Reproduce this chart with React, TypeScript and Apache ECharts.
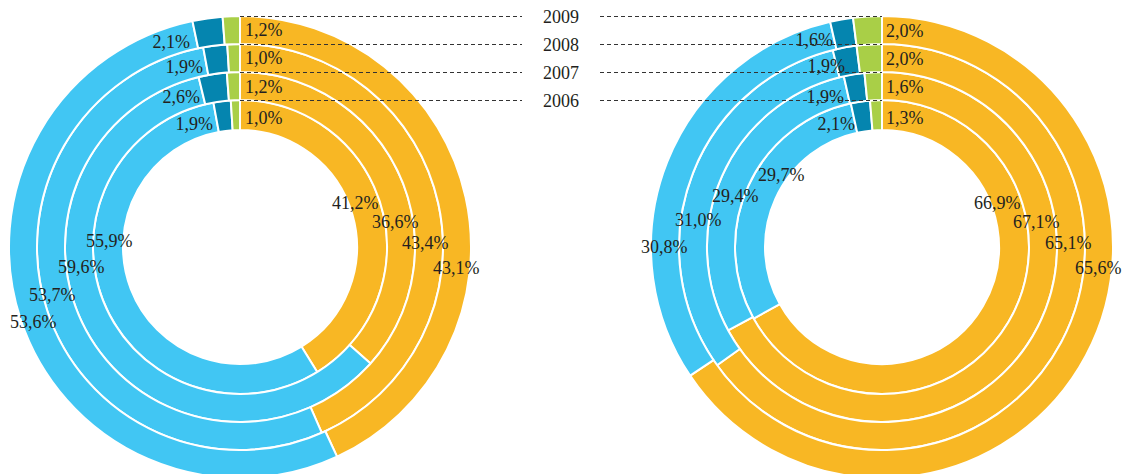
import React, { useEffect, useRef } from "react";
import * as echarts from "echarts";

const years = ["2006", "2007", "2008", "2009"];
const segmentNames = ["A", "B", "C", "D"];
const leftYellow = [41.2, 36.6, 43.4, 43.1];
const leftBlue = [55.9, 59.6, 53.7, 53.6];
const leftDark = [1.9, 2.6, 1.9, 2.1];
const leftGreen = [1.0, 1.2, 1.0, 1.2];
const rightYellow = [66.9, 67.1, 65.1, 65.6];
const rightBlue = [29.7, 29.4, 31.0, 30.8];
const rightDark = [2.1, 1.9, 1.9, 1.6];
const rightGreen = [1.3, 1.6, 2.0, 2.0];

// layout
const COLORS = ["#F8B724", "#41C6F3", "#0585AF", "#A9CF47"];
const RINGS = [
  [117, 147],
  [147, 175],
  [175, 203],
  [203, 231],
];
const CY = 247;
const LCX = 240;
const RCX = 882;
const FONT = "Liberation Serif";
const FONT_SIZE = 18;
const TEXT_COLOR = "#231f20";

// label anchors (index 0 = 2006)
const L_GREEN = { x: [245, 245, 245, 245], y: [118, 87, 58, 30] };
const L_DARK = { x: [213, 200, 203, 190], y: [124, 97, 67, 42] };
const L_YELLOW = { x: [332, 372, 402, 433], y: [203, 222, 243, 268] };
const L_BLUE = { x: [86, 58, 29, 10], y: [241, 267, 295, 322] };
const R_GREEN = { x: [886, 886, 886, 886], y: [118, 87, 59, 31] };
const R_DARK = { x: [855, 844, 845, 833], y: [124, 97, 66, 40] };
const R_YELLOW = { x: [974, 1013, 1045, 1075], y: [203, 222, 243, 268] };
const R_BLUE = { x: [758, 712, 675, 641], y: [175, 196, 220, 247] };

const fmt = (v: number) => v.toFixed(1).replace(".", ",") + "%";

function makeSeries(cx: number, y: number[], b: number[], d: number[], g: number[]) {
  return years.map((yr, i) => ({
    type: "pie",
    name: yr,
    center: [cx, CY],
    radius: RINGS[i],
    startAngle: 90,
    clockwise: true,
    silent: true,
    avoidLabelOverlap: false,
    label: { show: false },
    labelLine: { show: false },
    itemStyle: { borderColor: "#ffffff", borderWidth: 2 },
    data: [y[i], b[i], d[i], g[i]].map((v, k) => ({
      name: segmentNames[k],
      value: v,
      itemStyle: { color: COLORS[k] },
    })),
  }));
}

function texts(vals: number[], pos: { x: number[]; y: number[] }, align: string) {
  return vals.map((v, i) => ({
    type: "text",
    z: 100,
    x: pos.x[i],
    y: pos.y[i],
    style: {
      text: fmt(v),
      fill: TEXT_COLOR,
      fontFamily: FONT,
      fontSize: FONT_SIZE,
      align: align,
      verticalAlign: "middle",
    },
  }));
}

export default function App() {
  const ref = useRef<HTMLDivElement>(null);
  useEffect(() => {
    const chart = echarts.init(ref.current!, undefined, { renderer: "svg" });
    const lineYs = RINGS.map((r) => CY - r[1]);
    const graphics: any[] = [];
    lineYs.forEach((ly) => {
      graphics.push({
        type: "line",
        z: 99,
        shape: { x1: LCX, y1: ly + 0.5, x2: 522, y2: ly + 0.5 },
        style: { stroke: "#333", lineWidth: 1, lineDash: [4, 3] },
      });
      graphics.push({
        type: "line",
        z: 99,
        shape: { x1: 600, y1: ly + 0.5, x2: RCX, y2: ly + 0.5 },
        style: { stroke: "#333", lineWidth: 1, lineDash: [4, 3] },
      });
    });
    years.forEach((yr, i) => {
      graphics.push({
        type: "text",
        z: 100,
        x: 561,
        y: lineYs[i] + 1,
        style: {
          text: yr,
          fill: TEXT_COLOR,
          fontFamily: FONT,
          fontSize: FONT_SIZE,
          align: "center",
          verticalAlign: "middle",
        },
      });
    });
    graphics.push(
      ...texts(leftGreen, L_GREEN, "left"),
      ...texts(leftDark, L_DARK, "right"),
      ...texts(leftYellow, L_YELLOW, "left"),
      ...texts(leftBlue, L_BLUE, "left"),
      ...texts(rightGreen, R_GREEN, "left"),
      ...texts(rightDark, R_DARK, "right"),
      ...texts(rightYellow, R_YELLOW, "left"),
      ...texts(rightBlue, R_BLUE, "left")
    );
    chart.setOption({
      animation: false,
      backgroundColor: "#ffffff",
      series: [
        ...makeSeries(LCX, leftYellow, leftBlue, leftDark, leftGreen),
        ...makeSeries(RCX, rightYellow, rightBlue, rightDark, rightGreen),
      ],
      graphic: graphics,
    });
    return () => chart.dispose();
  }, []);
  return (
    <div
      ref={ref}
      style={{ position: "fixed", left: 0, top: 0, width: 1126, height: 474 }}
    />
  );
}
